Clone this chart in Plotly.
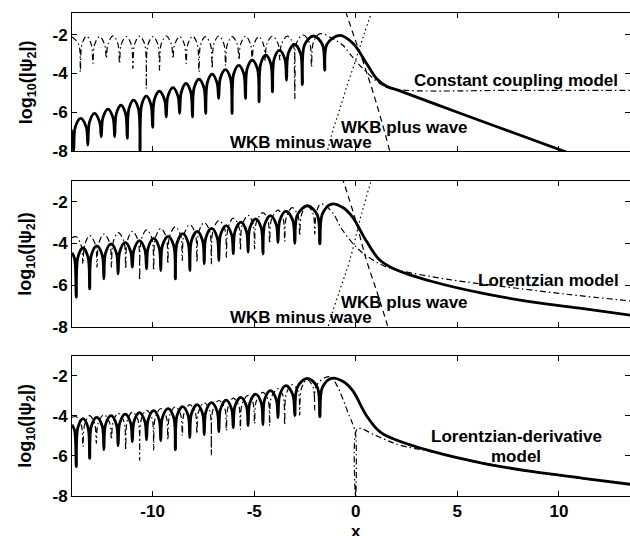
import plotly.graph_objects as go

# ---------------- data ----------------
x_ticks = [-10, -5, 0, 5, 10]
x_tick_text = ["-10", "-5", "0", "5", "10"]
y_ticks = [-8, -6, -4, -2]
y_tick_text = ["-8", "-6", "-4", "-2"]

# Panel 1: Constant coupling model  (x, log10|psi2|) points along each curve
p1_solid = [
    (-14.0, -6.9), (-13.89, -8.0), (-13.81, -6.77), (-13.54, -6.32), (-13.27, -6.77),
    (-13.19, -7.69), (-13.11, -6.51), (-12.86, -6.06), (-12.61, -6.51), (-12.53, -7.26),
    (-12.45, -6.29), (-12.2, -5.84), (-11.95, -6.29), (-11.87, -7.26), (-11.79, -6.09),
    (-11.56, -5.64), (-11.33, -6.09), (-11.25, -7.35), (-11.17, -5.83), (-10.94, -5.38),
    (-10.70, -5.83), (-10.62, -8.0), (-10.54, -5.62), (-10.31, -5.17), (-10.08, -5.62),
    (-10.0, -6.78), (-9.92, -5.37), (-9.67, -4.92), (-9.41, -5.37), (-9.33, -6.24),
    (-9.25, -5.18), (-9.0, -4.73), (-8.75, -5.18), (-8.67, -6.06), (-8.59, -4.97),
    (-8.36, -4.52), (-8.12, -4.97), (-8.04, -6.24), (-7.96, -4.75), (-7.72, -4.30),
    (-7.47, -4.75), (-7.39, -6.06), (-7.31, -4.49), (-7.07, -4.04), (-6.83, -4.49),
    (-6.75, -5.29), (-6.67, -4.25), (-6.42, -3.80), (-6.17, -4.25), (-6.09, -6.06),
    (-6.01, -4.03), (-5.76, -3.58), (-5.51, -4.03), (-5.43, -5.29), (-5.35, -3.77),
    (-5.1, -3.32), (-4.84, -3.77), (-4.76, -5.46), (-4.68, -3.51), (-4.43, -3.06),
    (-4.18, -3.51), (-4.1, -4.95), (-4.02, -3.26), (-3.76, -2.81), (-3.49, -3.26),
    (-3.41, -4.35), (-3.32, -2.96), (-3.02, -2.51), (-2.72, -2.96), (-2.63, -4.57),
    (-2.52, -2.52), (-2.08, -2.07), (-1.64, -2.52), (-1.53, -3.84), (-1.42, -2.5),
    (-0.79, -2.04), (-0.13, -2.46), (0.53, -3.49), (1.02, -4.26), (1.51, -4.66),
    (2.17, -4.90), (5.0, -6.0), (8.0, -7.15), (11.0, -8.3),
]
p1_dashdot = [
    (-13.97, -2.12), (-13.64, -2.5), (-13.56, -3.92), (-13.48, -2.5), (-13.25, -2.08),
    (-13.02, -2.5), (-12.94, -3.49), (-12.86, -2.52), (-12.61, -2.1), (-12.36, -2.52),
    (-12.28, -3.23), (-12.2, -2.48), (-11.95, -2.06), (-11.71, -2.48), (-11.63, -3.49),
    (-11.55, -2.52), (-11.3, -2.1), (-11.05, -2.52), (-10.97, -3.75), (-10.89, -2.5),
    (-10.64, -2.08), (-10.39, -2.5), (-10.31, -4.78), (-10.23, -2.52), (-9.98, -2.1),
    (-9.74, -2.52), (-9.66, -3.84), (-9.58, -2.49), (-9.33, -2.07), (-9.08, -2.49),
    (-9.0, -3.23), (-8.92, -2.52), (-8.67, -2.1), (-8.43, -2.52), (-8.35, -3.49),
    (-8.27, -2.5), (-8.03, -2.08), (-7.8, -2.5), (-7.72, -3.92), (-7.64, -2.52),
    (-7.4, -2.1), (-7.15, -2.52), (-7.07, -3.75), (-6.99, -2.49), (-6.74, -2.07),
    (-6.49, -2.49), (-6.41, -3.6), (-6.33, -2.52), (-6.08, -2.1), (-5.83, -2.52),
    (-5.75, -3.3), (-5.67, -2.5), (-5.42, -2.08), (-5.18, -2.5), (-5.1, -3.3),
    (-5.02, -2.52), (-4.78, -2.1), (-4.54, -2.52), (-4.46, -3.35), (-4.38, -2.49),
    (-4.1, -2.07), (-3.82, -2.49), (-3.74, -3.3), (-3.66, -2.5), (-3.37, -2.08),
    (-3.08, -2.5), (-3.0, -5.3), (-2.92, -2.44), (-2.59, -2.02), (-2.27, -2.44),
    (-2.18, -3.67), (-2.08, -2.37), (-1.75, -1.95), (-1.15, -2.2), (-0.63, -2.55),
    (-0.3, -2.98), (0.35, -3.75), (1.18, -4.52), (1.58, -4.72), (2.5, -4.87),
    (8.0, -4.87), (13.6, -4.87),
]
p1_dash = [(-0.5, -0.8), (-0.05, -2.2), (0.36, -3.4), (1.02, -5.55), (1.67, -8.0), (1.8, -8.6)]
p1_dot = [(0.8, -0.8), (0.4, -2.0), (0.0, -3.3), (-0.45, -4.7), (-0.8, -5.9), (-1.12, -6.92), (-1.42, -8.1)]

# Panel 2: Lorentzian model
p2_solid = [
    (-13.97, -4.45), (-13.84, -4.75), (-13.76, -6.58), (-13.68, -4.67), (-13.43, -4.22),
    (-13.18, -4.67), (-13.1, -6.18), (-13.02, -4.57), (-12.75, -4.12), (-12.48, -4.57),
    (-12.4, -5.7), (-12.32, -4.47), (-12.05, -4.02), (-11.78, -4.47), (-11.7, -5.46),
    (-11.62, -4.4), (-11.35, -3.95), (-11.08, -4.4), (-11.0, -5.14), (-10.92, -4.31),
    (-10.65, -3.86), (-10.38, -4.31), (-10.3, -5.22), (-10.22, -4.21), (-9.95, -3.76),
    (-9.68, -4.21), (-9.6, -5.3), (-9.52, -4.11), (-9.24, -3.66), (-8.96, -4.11),
    (-8.88, -5.7), (-8.8, -3.98), (-8.52, -3.53), (-8.25, -3.98), (-8.17, -5.3),
    (-8.09, -3.87), (-7.81, -3.42), (-7.54, -3.87), (-7.46, -4.98), (-7.38, -3.73),
    (-7.1, -3.28), (-6.82, -3.73), (-6.74, -4.82), (-6.66, -3.59), (-6.38, -3.14),
    (-6.11, -3.59), (-6.03, -4.5), (-5.95, -3.43), (-5.66, -2.98), (-5.38, -3.43),
    (-5.3, -4.42), (-5.22, -3.27), (-4.93, -2.82), (-4.65, -3.27), (-4.57, -4.5),
    (-4.49, -3.11), (-4.2, -2.66), (-3.91, -3.11), (-3.83, -3.95), (-3.74, -2.9),
    (-3.44, -2.45), (-3.1, -2.9), (-3.0, -4.0), (-2.88, -2.64), (-2.38, -2.19),
    (-1.89, -2.64), (-1.77, -4.02), (-1.65, -2.6), (-1.2, -2.11), (-0.6, -2.3),
    (-0.15, -2.75), (0.53, -3.9), (1.18, -4.8), (1.84, -5.2), (3.81, -5.84),
    (6.27, -6.4), (8.73, -6.82), (11.2, -7.13), (13.6, -7.46),
]
p2_dashdot = [
    (-13.97, -3.72), (-13.76, -3.68), (-13.51, -4.13), (-13.43, -4.98), (-13.35, -4.1),
    (-13.1, -3.62), (-12.82, -4.05), (-12.74, -5.14), (-12.66, -4.03), (-12.4, -3.55),
    (-12.11, -3.98), (-12.03, -5.14), (-11.95, -3.96), (-11.7, -3.48), (-11.41, -3.91),
    (-11.33, -5.22), (-11.25, -3.89), (-11.0, -3.42), (-10.72, -3.85), (-10.64, -5.78),
    (-10.56, -3.83), (-10.3, -3.35), (-10.03, -3.78), (-9.95, -5.3), (-9.87, -3.75),
    (-9.6, -3.28), (-9.33, -3.7), (-9.25, -4.98), (-9.17, -3.67), (-8.88, -3.2),
    (-8.62, -3.62), (-8.54, -4.82), (-8.46, -3.58), (-8.17, -3.1), (-7.9, -3.52),
    (-7.82, -4.9), (-7.74, -3.48), (-7.46, -3.0), (-7.19, -3.42), (-7.11, -4.98),
    (-7.03, -3.38), (-6.74, -2.9), (-6.45, -3.3), (-6.37, -4.66), (-6.29, -3.27),
    (-6.03, -2.78), (-5.76, -3.17), (-5.68, -4.34), (-5.6, -3.13), (-5.3, -2.65),
    (-5.06, -3.05), (-4.98, -4.26), (-4.9, -3.0), (-4.57, -2.52), (-4.32, -2.92),
    (-4.24, -4.0), (-4.16, -2.88), (-3.83, -2.4), (-3.58, -2.78), (-3.5, -3.9),
    (-3.42, -2.75), (-3.13, -2.28), (-2.84, -2.68), (-2.76, -3.63), (-2.68, -2.65),
    (-2.4, -2.18), (-2.1, -2.58), (-2.02, -3.55), (-1.94, -2.52), (-1.72, -2.1),
    (-1.2, -2.45), (-0.63, -3.39), (0.2, -4.34), (1.35, -5.06), (2.17, -5.3),
    (4.63, -5.74), (7.09, -6.05), (10.38, -6.44), (13.6, -6.77),
]
p2_dash = [(-0.68, -0.8), (-0.05, -2.75), (0.53, -4.82), (1.02, -6.26), (1.51, -7.78), (1.6, -8.1)]
p2_dot = [(0.8, -0.85), (0.28, -2.59), (-0.3, -4.82), (-0.79, -6.26), (-1.28, -7.7), (-1.38, -8.1)]

# Panel 3: Lorentzian-derivative model
p3_solid = [
    (-13.97, -4.45), (-13.84, -4.75), (-13.76, -6.55), (-13.68, -4.6), (-13.43, -4.15),
    (-13.18, -4.6), (-13.1, -6.13), (-13.02, -4.53), (-12.75, -4.08), (-12.48, -4.53),
    (-12.4, -5.7), (-12.32, -4.45), (-12.05, -4.0), (-11.78, -4.45), (-11.7, -5.5),
    (-11.62, -4.37), (-11.35, -3.92), (-11.08, -4.37), (-11.0, -5.3), (-10.92, -4.3),
    (-10.65, -3.85), (-10.38, -4.3), (-10.3, -5.2), (-10.22, -4.2), (-9.95, -3.75),
    (-9.68, -4.2), (-9.6, -5.25), (-9.52, -4.1), (-9.24, -3.65), (-8.96, -4.1),
    (-8.88, -5.7), (-8.8, -4.0), (-8.52, -3.55), (-8.25, -4.0), (-8.17, -5.1),
    (-8.09, -3.9), (-7.81, -3.45), (-7.54, -3.9), (-7.46, -4.95), (-7.38, -3.8),
    (-7.1, -3.35), (-6.82, -3.8), (-6.74, -4.8), (-6.66, -3.67), (-6.38, -3.22),
    (-6.11, -3.67), (-6.03, -4.6), (-5.95, -3.53), (-5.66, -3.08), (-5.38, -3.53),
    (-5.3, -4.5), (-5.22, -3.37), (-4.93, -2.92), (-4.65, -3.37), (-4.57, -4.45),
    (-4.49, -3.2), (-4.2, -2.75), (-3.91, -3.2), (-3.83, -4.1), (-3.74, -2.95),
    (-3.44, -2.5), (-3.1, -2.95), (-3.0, -4.0), (-2.88, -2.58), (-2.38, -2.13),
    (-1.89, -2.58), (-1.77, -4.05), (-1.65, -2.6), (-1.2, -2.13), (-0.6, -2.3),
    (-0.15, -2.75), (0.53, -4.0), (1.18, -4.8), (1.84, -5.15), (3.81, -5.8),
    (6.27, -6.38), (8.73, -6.8), (11.2, -7.13), (13.6, -7.44),
]
p3_dashdot = [
    (-13.97, -4.08), (-13.76, -4.05), (-13.51, -4.48), (-13.43, -5.55), (-13.35, -4.45),
    (-13.1, -4.0), (-12.85, -4.43), (-12.77, -5.38), (-12.69, -4.4), (-12.4, -3.95),
    (-12.11, -4.37), (-12.03, -5.2), (-11.95, -4.33), (-11.7, -3.88), (-11.41, -4.3),
    (-11.33, -5.72), (-11.25, -4.27), (-11.0, -3.82), (-10.72, -4.22), (-10.64, -6.22),
    (-10.56, -4.18), (-10.3, -3.73), (-10.03, -4.13), (-9.95, -5.72), (-9.87, -4.09),
    (-9.6, -3.64), (-9.33, -4.05), (-9.25, -5.22), (-9.17, -4.0), (-8.88, -3.55),
    (-8.62, -3.95), (-8.54, -5.0), (-8.46, -3.9), (-8.17, -3.45), (-7.9, -3.85),
    (-7.82, -4.9), (-7.74, -3.8), (-7.46, -3.35), (-7.19, -3.75), (-7.11, -5.97),
    (-7.03, -3.69), (-6.74, -3.24), (-6.45, -3.63), (-6.37, -4.75), (-6.29, -3.57),
    (-6.03, -3.12), (-5.76, -3.5), (-5.68, -4.7), (-5.6, -3.43), (-5.3, -2.98),
    (-5.06, -3.35), (-4.98, -4.4), (-4.9, -3.28), (-4.57, -2.83), (-4.32, -3.19),
    (-4.24, -4.5), (-4.16, -3.1), (-3.83, -2.65), (-3.58, -3.0), (-3.5, -4.47),
    (-3.42, -2.9), (-3.13, -2.45), (-2.84, -2.78), (-2.76, -3.97), (-2.68, -2.65),
    (-2.4, -2.2), (-2.1, -2.58), (-2.02, -3.72), (-1.94, -2.5), (-1.28, -2.05),
    (-0.3, -4.05), (-0.13, -4.47), (-0.01, -4.9), (0.0, -8.6), (0.02, -4.75),
    (0.2, -4.63), (0.8, -4.9), (1.51, -5.22), (2.17, -5.47), (3.81, -5.82),
    (6.27, -6.4), (8.73, -6.82), (11.2, -7.15), (13.6, -7.45),
]

labels = {
    1: [("Constant coupling model", 7.9, -4.35), ("WKB plus wave", 2.4, -6.77), ("WKB minus wave", -2.7, -7.58)],
    2: [("Lorentzian model", 9.5, -5.78), ("WKB plus wave", 2.4, -6.85), ("WKB minus wave", -2.7, -7.56)],
    3: [("Lorentzian-derivative", 7.9, -5.05), ("model", 7.9, -6.05)],
}
y_title = "<b>log<sub>10</sub>(|ψ<sub>2</sub>|)</b>"
x_title = "<b>x</b>"

# ---------------- figure ----------------
W, H = 630, 536
fig = go.Figure()

BLACK = "black"
SOLID_W = 2.8
THIN_W = 1.2
DASHDOT = "6px,3px,1.5px,3px"
DASH = "6px,4px"
DOT = "1.5px,3px"


def add(points, panel, width, dash):
    xs = [p[0] for p in points]
    ys = [p[1] for p in points]
    fig.add_trace(go.Scatter(
        x=xs, y=ys, mode="lines",
        line=dict(color=BLACK, width=width, dash=dash, shape="spline", smoothing=1.0),
        xaxis="x" if panel == 1 else f"x{panel}",
        yaxis="y" if panel == 1 else f"y{panel}",
        showlegend=False, hoverinfo="skip"))


add(p1_dashdot, 1, THIN_W, DASHDOT)
add(p1_dash, 1, THIN_W, DASH)
add(p1_dot, 1, THIN_W, DOT)
add(p1_solid, 1, SOLID_W, "solid")

add(p2_dashdot, 2, THIN_W, DASHDOT)
add(p2_dash, 2, THIN_W, DASH)
add(p2_dot, 2, THIN_W, DOT)
add(p2_solid, 2, SOLID_W, "solid")

add(p3_dashdot, 3, THIN_W, DASHDOT)
add(p3_solid, 3, SOLID_W, "solid")

FONT = "Liberation Sans"
tickfont = dict(family=FONT, size=17, color=BLACK, weight="bold")

# panel pixel boxes (top, bottom)
boxes = {1: (13.3, 151.0), 2: (181.0, 326.7), 3: (355.7, 495.7)}
yranges = {1: [-8, -0.9], 2: [-8, -1.0], 3: [-8, -1.0]}
xrange_ = [-13.97, 13.5]

layout = dict(
    width=W, height=H,
    margin=dict(l=72, r=0, t=0, b=0, autoexpand=False),
    paper_bgcolor="white", plot_bgcolor="white",
    showlegend=False,
)
for p in (1, 2, 3):
    top, bot = boxes[p]
    xa = "xaxis" if p == 1 else f"xaxis{p}"
    ya = "yaxis" if p == 1 else f"yaxis{p}"
    layout[xa] = dict(
        domain=[0, 1], range=xrange_, anchor="y" if p == 1 else f"y{p}",
        tickvals=x_ticks, ticktext=x_tick_text, showticklabels=(p == 3),
        ticks="inside", ticklen=5, tickcolor=BLACK, tickwidth=1,
        showline=True, linecolor=BLACK, linewidth=1, mirror="ticks",
        showgrid=False, zeroline=False, tickfont=tickfont,
    )
    layout[ya] = dict(
        domain=[1 - bot / H, 1 - top / H], range=yranges[p], anchor="x" if p == 1 else f"x{p}",
        tickvals=y_ticks, ticktext=y_tick_text,
        ticks="inside", ticklen=5, tickcolor=BLACK, tickwidth=1,
        showline=True, linecolor=BLACK, linewidth=1, mirror="ticks",
        showgrid=False, zeroline=False, tickfont=tickfont,
    )

annotations = []
for p, items in labels.items():
    for text, ax, ay in items:
        annotations.append(dict(
            text=f"<b>{text}</b>", x=ax, y=ay,
            xref="x" if p == 1 else f"x{p}", yref="y" if p == 1 else f"y{p}",
            showarrow=False, xanchor="center", yanchor="middle",
            font=dict(family=FONT, size=17, color=BLACK)))
    top, bot = boxes[p]
    annotations.append(dict(
        text=y_title,
        x=(27 - 72) / (W - 72), y=1 - (top + bot) / 2 / H,
        xref="paper", yref="paper", textangle=-90, showarrow=False,
        xanchor="center", yanchor="middle",
        font=dict(family=FONT, size=18, color=BLACK)))

annotations.append(dict(
    text=x_title, x=0, y=1 - 531 / H, xref="x3", yref="paper",
    showarrow=False, xanchor="center", yanchor="middle",
    font=dict(family=FONT, size=17, color=BLACK)))

layout["annotations"] = annotations
fig.update_layout(**layout)

fig.write_html("out.html")
